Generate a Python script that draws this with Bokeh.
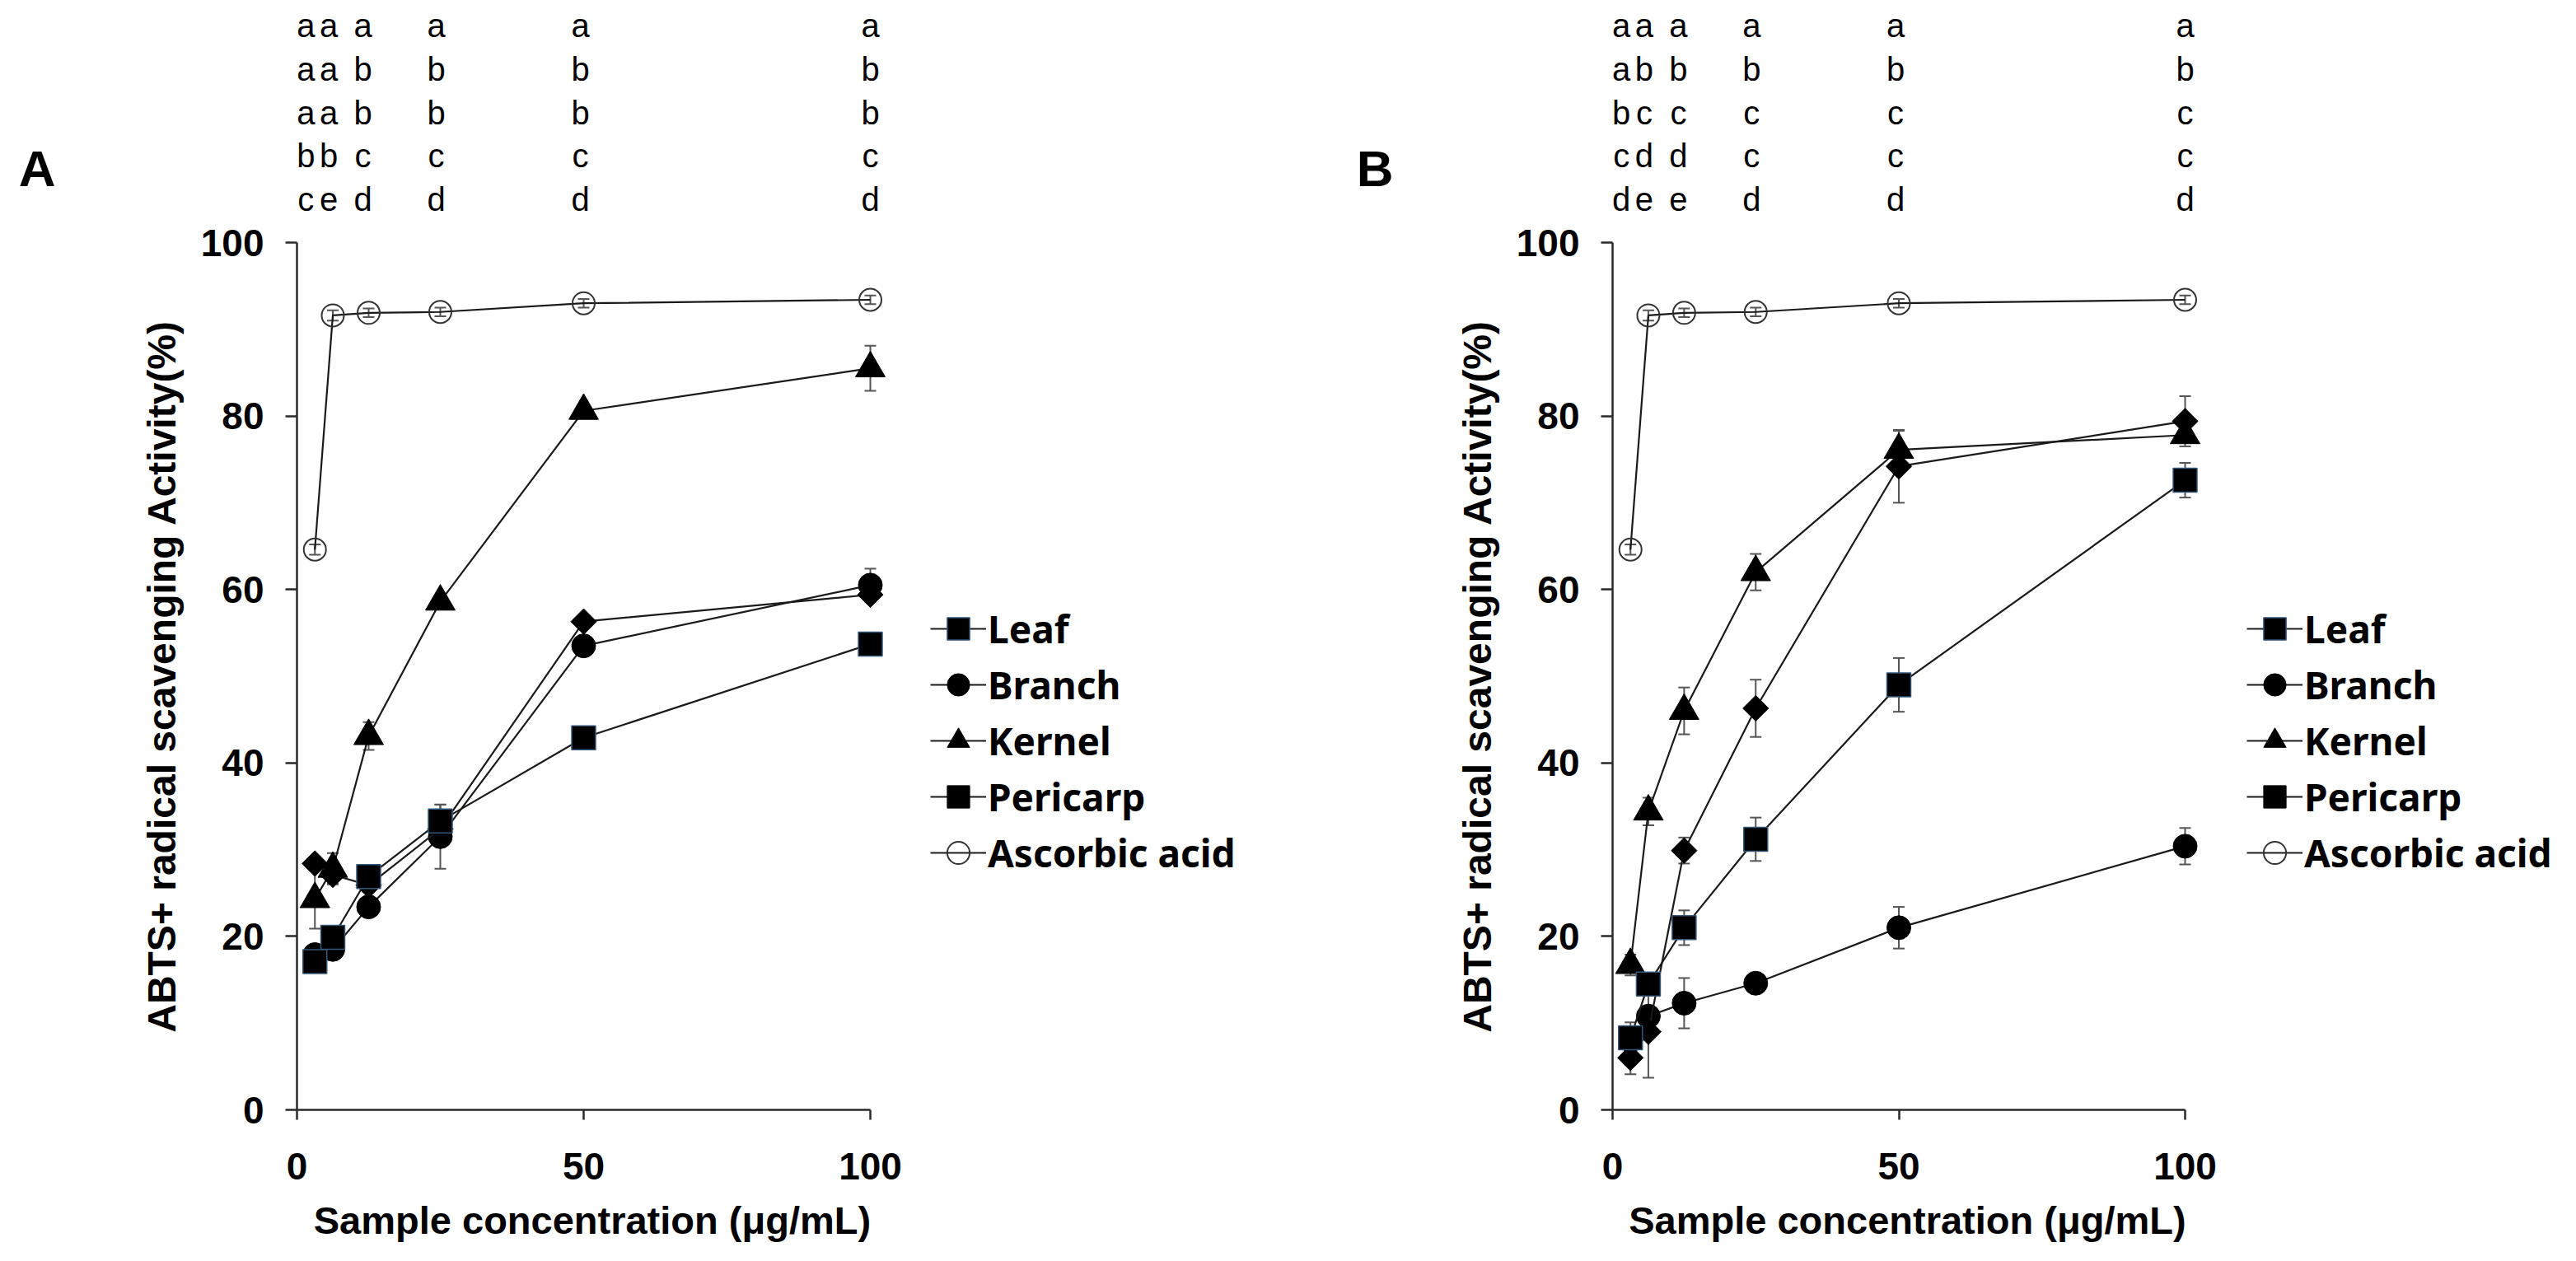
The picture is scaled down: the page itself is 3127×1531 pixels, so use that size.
import numpy as np
from bokeh.plotting import figure
from bokeh.layouts import row, column
from bokeh.models import (ColumnDataSource, Whisker, TeeHead, Legend, LegendItem,
                          FixedTicker, Range1d)
from bokeh.core.properties import value
from bokeh.embed import file_html
from bokeh.resources import INLINE

# sample concentration (ug/mL)
conc = [3.125, 6.25, 12.5, 25, 50, 100]

# panel A: ABTS+ scavenging (%) and SD
leaf_a = [17.1, 19.9, 26.9, 33.3, 42.9, 53.7]
leaf_a_err = [0.8, 1.2, 1.0, 1.9, 0.8, 1.0]
branch_a = [17.9, 18.5, 23.4, 31.5, 53.5, 60.5]
branch_a_err = [0.8, 1.0, 0.8, 3.7, 1.0, 1.9]
kernel_a = [24.3, 27.8, 43.1, 58.6, 80.6, 85.5]
kernel_a_err = [3.4, 1.8, 1.6, 0.6, 0.6, 2.6]
pericarp_a = [28.4, 27.1, 25.9, 32.4, 56.3, 59.4]
pericarp_a_err = [0.8, 1.0, 0.8, 1.5, 0.7, 0.8]
ascorbic_a = [64.6, 91.6, 91.9, 92.0, 93.0, 93.4]
ascorbic_a_err = [0.6, 0.6, 0.5, 0.5, 0.5, 0.5]

# panel B
leaf_b = [8.3, 14.5, 21.0, 31.2, 49.0, 72.6]
leaf_b_err = [1.8, 1.0, 2.0, 2.5, 3.1, 2.0]
branch_b = [8.0, 10.8, 12.3, 14.6, 21.0, 30.4]
branch_b_err = [1.0, 1.0, 2.9, 0.5, 2.4, 2.1]
kernel_b = [16.7, 34.4, 46.0, 62.0, 76.1, 77.8]
kernel_b_err = [1.2, 1.6, 2.7, 2.1, 2.2, 0.6]
pericarp_b = [6.0, 9.0, 29.9, 46.3, 74.2, 79.4]
pericarp_b_err = [1.9, 5.3, 1.5, 3.3, 4.2, 2.9]
ascorbic_b = [64.6, 91.6, 91.9, 92.0, 93.0, 93.4]
ascorbic_b_err = [0.6, 0.6, 0.5, 0.5, 0.5, 0.5]

# significance letters per concentration (top to bottom)
letters_a = ["aaabc", "aaabe", "abbcd", "abbcd", "abbcd", "abbcd"]
letters_b = ["aabcd", "abcde", "abcde", "abccd", "abccd", "abccd"]

names = ["Leaf", "Branch", "Kernel", "Pericarp", "Ascorbic acid"]
x_ticks = [0, 50, 100]
y_ticks = [0, 20, 40, 60, 80, 100]
y_title = "ABTS+ radical scavenging Activity(%)"
x_title = "Sample concentration (\u03bcg/mL)"

FONT = "Liberation Sans"
LEG_FONT = "Noto Sans"

STYLE = {
    "Leaf": dict(marker="square", size=29, angle=0.0, fill_color="black", line_color="#35577a", line_width=1.5),
    "Branch": dict(marker="circle", size=29, angle=0.0, fill_color="black", line_color="black", line_width=1),
    "Kernel": dict(marker="triangle", size=36, angle=0.0, fill_color="black", line_color="black", line_width=1),
    "Pericarp": dict(marker="square", size=22, angle=np.pi / 4, fill_color="black", line_color="black", line_width=1),
    "Ascorbic acid": dict(marker="circle", size=27, angle=0.0, fill_color=None, line_color="#333333", line_width=2),
}
draw_order = ["Ascorbic acid", "Kernel", "Branch", "Pericarp", "Leaf"]
letter_shift = [-11, -5, -7, -5, -4, 0]

W = 1555
TOP_H = 264          # strip with the letters and the panel tag
BOT_H = 62           # strip with the x-axis title
FRAME_TOP = 30
FRAME_BOTTOM = 105
MAIN_H = 1514 - TOP_H - BOT_H


def strip(height, xr, yr):
    s = figure(width=W, height=height, output_backend="svg", toolbar_location=None,
               x_axis_type=None, x_range=xr, y_range=yr,
               min_border_top=0, min_border_bottom=0, min_border_right=5)
    s.outline_line_color = None
    s.grid.visible = False
    return s


def panel(tag, series, letters, left, px_per_x, tag_standoff, legend_dx):
    px_per_y = (MAIN_H - FRAME_TOP - FRAME_BOTTOM) / 100.0
    xr = Range1d(0, (W - left - 5) / px_per_x)

    # letters strip, same x scale as the plot
    top = strip(TOP_H, xr, Range1d(100 + FRAME_TOP / px_per_y,
                                   100 + (TOP_H + FRAME_TOP) / px_per_y))
    top.min_border_left = left
    ax = top.yaxis[0]
    ax.ticker = FixedTicker(ticks=[108.5])
    ax.major_label_overrides = {108.5: tag}
    ax.axis_line_color = None
    ax.major_tick_line_color = None
    ax.minor_tick_line_color = None
    ax.major_tick_out = 0
    ax.major_label_standoff = tag_standoff
    ax.major_label_text_font = FONT
    ax.major_label_text_font_style = "bold"
    ax.major_label_text_font_size = "62px"
    ax.major_label_text_color = "black"

    xs, ys, txt, offs = [], [], [], []
    for ci, col in enumerate(letters):
        for ri, ch in enumerate(col):
            xs.append(conc[ci])
            ys.append(125 - 5 * ri)
            txt.append(ch)
            offs.append(letter_shift[ci])
    lsrc = ColumnDataSource(dict(x=xs, y=ys, text=txt, off=offs))
    top.text("x", "y", text="text", source=lsrc, x_offset="off",
             text_font=value(FONT), text_font_size="40px", text_align="center",
             text_baseline="middle", text_color="black")

    # main plot
    p = figure(width=W, height=MAIN_H, output_backend="svg", toolbar_location=None,
               x_range=xr, y_range=Range1d(0, 100),
               min_border_left=left, min_border_right=5,
               min_border_top=FRAME_TOP, min_border_bottom=FRAME_BOTTOM)
    p.outline_line_color = None
    p.grid.visible = False

    for ax, ticks, out, stand in ((p.xaxis[0], x_ticks, 12, 40), (p.yaxis[0], y_ticks, 14, 26)):
        ax.ticker = FixedTicker(ticks=ticks)
        ax.bounds = (0, 100)
        ax.minor_tick_line_color = None
        ax.major_tick_in = 0
        ax.major_tick_out = out
        ax.axis_line_width = 2.5
        ax.major_tick_line_width = 2.5
        ax.axis_line_color = "#2a2a2a"
        ax.major_tick_line_color = "#2a2a2a"
        ax.major_label_text_font = FONT
        ax.major_label_text_font_style = "bold"
        ax.major_label_text_font_size = "46px"
        ax.major_label_text_color = "black"
        ax.major_label_standoff = stand
    yax = p.yaxis[0]
    yax.axis_label = y_title
    yax.axis_label_standoff = 18
    yax.axis_label_text_font = FONT
    yax.axis_label_text_font_style = "bold"
    yax.axis_label_text_font_size = "48px"
    yax.axis_label_text_color = "black"

    renderers = {}
    for name in draw_order:
        vals, errs = series[name]
        st = STYLE[name]
        lo = [v - e for v, e in zip(vals, errs)]
        hi = [v + e for v, e in zip(vals, errs)]
        src = ColumnDataSource(dict(x=conc, y=vals, lo=lo, hi=hi))
        p.add_layout(Whisker(source=src, base="x", lower="lo", upper="hi",
                             line_color="#555555", line_width=2,
                             lower_head=TeeHead(size=14, line_color="#555555", line_width=2),
                             upper_head=TeeHead(size=14, line_color="#555555", line_width=2)))
        ln = p.line("x", "y", source=src, line_color="#1a1a1a", line_width=2.2)
        mk = p.scatter("x", "y", source=src, marker=st["marker"], size=st["size"],
                       angle=st["angle"], fill_color=st["fill_color"],
                       line_color=st["line_color"], line_width=st["line_width"])
        renderers[name] = [ln, mk]

    items = [LegendItem(label=n, renderers=renderers[n]) for n in names]
    leg = Legend(items=items, location=(legend_dx, 278), padding=0, margin=0,
                 border_line_color=None, background_fill_alpha=0,
                 glyph_width=68, glyph_height=68, label_height=68, spacing=0,
                 label_standoff=2, label_text_font=LEG_FONT, label_text_color="black",
                 label_text_font_style="bold", label_text_font_size="46px")
    p.add_layout(leg)

    # x-axis title strip
    bot = strip(BOT_H, xr, Range1d(0, BOT_H))
    bot.min_border_left = left
    bot.yaxis.visible = False
    bsrc = ColumnDataSource(dict(x=[51.5], y=[BOT_H - 29], text=[x_title]))
    bot.text("x", "y", text="text", source=bsrc, text_font=value(FONT),
             text_font_size="47px", text_font_style="bold", text_align="center",
             text_baseline="middle", text_color="black")
    return column(top, p, bot, spacing=0)


series_a = {
    "Leaf": (leaf_a, leaf_a_err), "Branch": (branch_a, branch_a_err),
    "Kernel": (kernel_a, kernel_a_err), "Pericarp": (pericarp_a, pericarp_a_err),
    "Ascorbic acid": (ascorbic_a, ascorbic_a_err),
}
series_b = {
    "Leaf": (leaf_b, leaf_b_err), "Branch": (branch_b, branch_b_err),
    "Kernel": (kernel_b, kernel_b_err), "Pericarp": (pericarp_b, pericarp_b_err),
    "Ascorbic acid": (ascorbic_b, ascorbic_b_err),
}

pa = panel("A", series_a, letters_a, 360, 6.96, 293, 769)
pb = panel("B", series_b, letters_b, 402, 6.95, 266, 770)

layout = row(pa, pb, spacing=0)
open("out.html", "w").write(file_html(layout, INLINE))
